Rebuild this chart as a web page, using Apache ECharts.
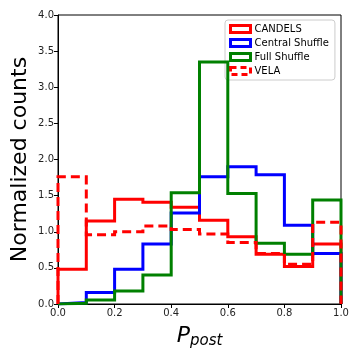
<!DOCTYPE html>
<html>
<head>
<meta charset="utf-8">
<script src="https://cdn.jsdelivr.net/npm/echarts@6/dist/echarts.min.js"></script>
<style>
  html, body { margin: 0; padding: 0; background: #fff; }
  #chart { width: 360px; height: 360px; }
</style>
</head>
<body>
<div id="chart"></div>
<script>
  // bin edges of P_post
  var binEdges = [0, 0.1, 0.2, 0.3, 0.4, 0.5, 0.6, 0.7, 0.8, 0.9, 1.0]
  var seriesNames = ['CANDELS', 'Central Shuffle', 'Full Shuffle', 'VELA']
  var candels = [0.48, 1.15, 1.45, 1.41, 1.34, 1.16, 0.93, 0.69, 0.52, 0.83]
  var centralShuffle = [0.02, 0.16, 0.48, 0.83, 1.26, 1.76, 1.90, 1.79, 1.09, 0.70]
  var fullShuffle = [0.01, 0.055, 0.18, 0.40, 1.54, 3.35, 1.53, 0.84, 0.69, 1.44]
  var vela = [1.76, 0.96, 1.00, 1.08, 1.03, 0.97, 0.85, 0.70, 0.55, 1.13]

  // step outline like histtype='step'
  function stepData (vals) {
    var pts = [[binEdges[0], 0]]
    vals.forEach(function (v, i) {
      pts.push([binEdges[i], v])
      pts.push([binEdges[i + 1], v])
    })
    pts.push([binEdges[binEdges.length - 1], 0])
    return pts
  }

  var colors = ['#ff0000', '#0000ff', '#008000', '#ff0000']
  var dashes = ['solid', 'solid', 'solid', [9, 5]]
  var allVals = [candels, centralShuffle, fullShuffle, vela]

  var chart = echarts.init(document.getElementById('chart'))
  chart.setOption({
    animation: false,
    textStyle: { fontFamily: 'DejaVu Sans' },
    grid: {
      left: 58, right: 19, top: 15, bottom: 56,
      containLabel: false, outerBoundsMode: 'none',
      show: true, borderColor: '#000', borderWidth: 1, backgroundColor: 'transparent'
    },
    legend: {
      orient: 'vertical',
      left: 225, top: 20,
      itemWidth: 20, itemHeight: 7,
      itemGap: 4,
      padding: [4, 6, 4, 4],
      borderColor: '#ccc', borderWidth: 1, borderRadius: 3,
      backgroundColor: 'rgba(255,255,255,0.8)',
      textStyle: { fontSize: 10, color: '#000', padding: [0, 0, 0, -1] },
      data: seriesNames.map(function (n, i) {
        return {
          name: n,
          icon: 'rect',
          itemStyle: {
            color: 'rgba(255,255,255,0)',
            borderColor: colors[i],
            borderWidth: 3,
            borderType: i === 3 ? [6, 4] : 'solid'
          }
        }
      })
    },
    xAxis: {
      type: 'value', min: 0, max: 1, interval: 0.2,
      name: '{p|P}{s|post}',
      nameLocation: 'middle', nameGap: 20,
      nameTextStyle: {
        rich: {
          p: { fontSize: 22, fontStyle: 'italic', color: '#000', fontFamily: 'DejaVu Sans' },
          s: { fontSize: 15, fontStyle: 'italic', color: '#000', fontFamily: 'DejaVu Sans', verticalAlign: 'bottom', padding: [10, 0, 0, 0] }
        }
      },
      axisLine: { lineStyle: { color: '#000' } },
      axisTick: { inside: false, length: 4, lineStyle: { color: '#000' } },
      axisLabel: {
        fontSize: 10, color: '#222', margin: 4,
        formatter: function (v) { return v.toFixed(1) }
      },
      splitLine: { show: false }
    },
    yAxis: {
      type: 'value', min: 0, max: 4, interval: 0.5,
      name: 'Normalized counts',
      nameLocation: 'middle', nameGap: 27, nameMoveOverlap: false,
      nameTextStyle: { fontSize: 22, color: '#000' },
      axisLine: { show: true, lineStyle: { color: '#000' } },
      axisTick: { show: true, length: 4, lineStyle: { color: '#000' } },
      axisLabel: {
        fontSize: 10, color: '#222', margin: 4,
        formatter: function (v) { return v.toFixed(1) }
      },
      splitLine: { show: false }
    },
    series: seriesNames.map(function (n, i) {
      return {
        name: n,
        type: 'line',
        data: stepData(allVals[i]),
        symbol: 'none',
        color: colors[i],
        lineStyle: { width: 3, color: colors[i], type: dashes[i], join: 'miter' },
        z: 2 + i
      }
    })
  })
</script>
</body>
</html>
